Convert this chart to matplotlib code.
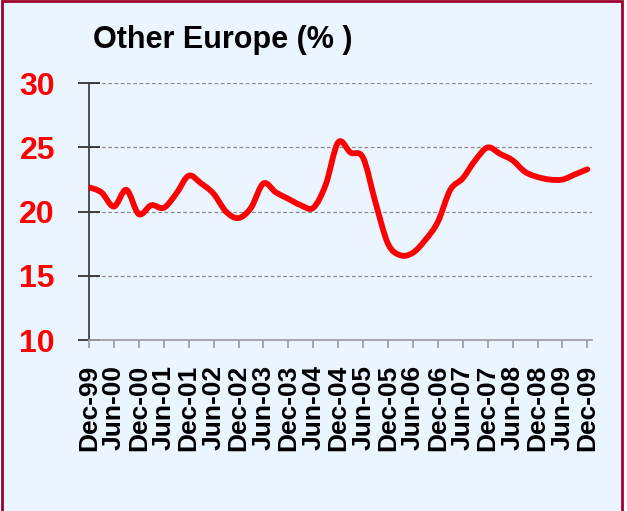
import matplotlib
matplotlib.use("Agg")
import matplotlib.pyplot as plt
from matplotlib.path import Path
from matplotlib.patches import PathPatch, Rectangle

# quarterly values, Dec-99 .. Dec-09
quarters = list(range(41))
share = [21.9, 21.5, 20.4, 21.7, 19.8, 20.5, 20.3, 21.4, 22.8, 22.2,
         21.4, 20.0, 19.5, 20.3, 22.2, 21.5, 21.0, 20.5, 20.3, 22.1,
         25.4, 24.6, 24.2, 20.7, 17.5, 16.6, 16.8, 17.8, 19.2, 21.7,
         22.6, 24.0, 25.0, 24.5, 24.0, 23.1, 22.7, 22.5, 22.5, 22.9,
         23.3]
tick_pos = list(range(0, 41, 2))
tick_labels = ["Dec-99", "Jun-00", "Dec-00", "Jun-01", "Dec-01", "Jun-02",
               "Dec-02", "Jun-03", "Dec-03", "Jun-04", "Dec-04", "Jun-05",
               "Dec-05", "Jun-06", "Dec-06", "Jun-07", "Dec-07", "Jun-08",
               "Dec-08", "Jun-09", "Dec-09"]
y_ticks = [10, 15, 20, 25, 30]

plt.rcParams['font.family'] = ['Liberation Sans', 'DejaVu Sans']

bg = '#EBF5FF'
fig = plt.figure(figsize=(6.27, 5.11), dpi=100, facecolor='white')
fig.add_artist(Rectangle((1.5 / 627, -0.05), 620.5 / 627, 1.05 - 1.5 / 511,
                         transform=fig.transFigure, facecolor=bg,
                         edgecolor='#A00030', linewidth=2.0, zorder=-5))

ax = fig.add_axes([89 / 627, 1 - 340 / 511, (591.7 - 89) / 627, (340 - 83.3) / 511])
ax.set_facecolor('none')
ax.set_zorder(2)

# smoothed line (Excel style bezier through the points)
verts = [(quarters[0], share[0])]
codes = [Path.MOVETO]
n = len(share)
for i in range(n - 1):
    p0 = (quarters[max(i - 1, 0)], share[max(i - 1, 0)])
    p1 = (quarters[i], share[i])
    p2 = (quarters[i + 1], share[i + 1])
    p3 = (quarters[min(i + 2, n - 1)], share[min(i + 2, n - 1)])
    c1 = (p1[0] + (p2[0] - p0[0]) / 6, p1[1] + (p2[1] - p0[1]) / 6)
    c2 = (p2[0] - (p3[0] - p1[0]) / 6, p2[1] - (p3[1] - p1[1]) / 6)
    verts += [c1, c2, p2]
    codes += [Path.CURVE4] * 3
ax.add_patch(PathPatch(Path(verts, codes), facecolor='none', edgecolor='#FF0000',
                       linewidth=4.2, capstyle='round', joinstyle='round', zorder=3))

ax.set_xlim(0, 40.35)
ax.set_ylim(10, 30)

for y in y_ticks[1:]:
    ax.axhline(y, color='#8C8C8C', linewidth=0.9, linestyle=(0, (3, 2)), zorder=1)

ax.set_yticks(y_ticks)
ax.set_yticklabels([str(v) for v in y_ticks])
ax.tick_params(axis='y', direction='inout', length=16, width=1.3, color='#303030',
               pad=16.5, labelsize=23, labelcolor='#FF0000')
for lbl in ax.get_yticklabels():
    lbl.set_fontweight('bold')

ax.set_xticks(tick_pos)
ax.set_xticklabels(tick_labels, rotation=90, fontsize=19, fontweight='bold')
ax.tick_params(axis='x', direction='out', length=6, width=1.3, color='#A0A0A0', pad=12)

for s in ['top', 'right']:
    ax.spines[s].set_visible(False)
ax.spines['left'].set_color('#404040')
ax.spines['left'].set_linewidth(1.3)
ax.spines['bottom'].set_color('#A0A0A0')
ax.spines['bottom'].set_linewidth(1.3)

fig.text(93 / 627, 1 - 48 / 511, "Other Europe (% )", fontsize=22, fontweight='bold',
         ha='left', va='baseline', color='black')

fig.savefig('out.png', dpi=100, facecolor=fig.get_facecolor())
